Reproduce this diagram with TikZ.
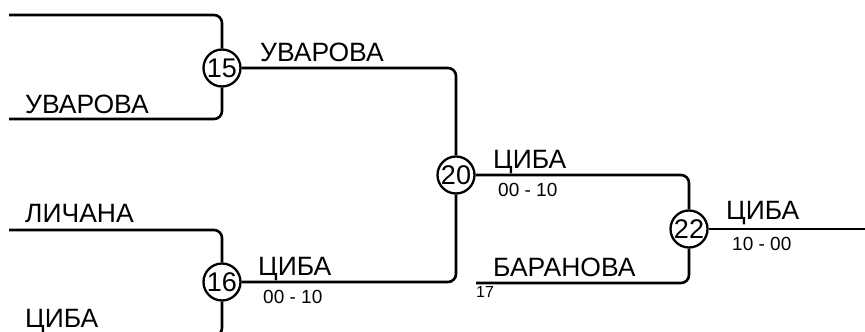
\documentclass[tikz,border=0pt]{standalone}
\usepackage{fontspec}
\setmainfont{Liberation Sans}
\begin{document}
\begin{tikzpicture}[x=1pt,y=-1pt,
  wire/.style={line width=2.6pt,rounded corners=8pt},
  match/.style={circle,draw,line width=2.3pt,minimum size=37pt,inner sep=0pt,font=\fontsize{27}{27}\selectfont},
  big/.style={anchor=base west,inner sep=0pt,font=\fontsize{26.5}{26.5}\selectfont},
  small/.style={anchor=base west,inner sep=0pt,font=\fontsize{19}{19}\selectfont},
  tiny/.style={anchor=base west,inner sep=0pt,font=\fontsize{16}{16}\selectfont}]
\useasboundingbox (0,0) rectangle (865,332);
\clip (0,0) rectangle (865,332);
% match nodes
\node[match] (m15) at (222,68) {15};
\node[match] (m16) at (222,282) {16};
\node[match] (m20) at (456,175) {20};
\node[match] (m22) at (689,229) {22};
% free ends
\coordinate (a15) at (9,15);
\coordinate (b15) at (9,119);
\coordinate (a16) at (9,230);
\coordinate (b16) at (9,336);
\coordinate (b22) at (476,283);
\coordinate (e22) at (870,229);
% connectors
\draw[wire] (a15) -| (m15);
\draw[wire] (b15) -| (m15);
\draw[wire] (a16) -| (m16);
\draw[wire] (b16) -| (m16);
\draw[wire] (m15) -| (m20);
\draw[wire] (m16) -| (m20);
\draw[wire] (m20) -| (m22);
\draw[wire] (b22) -| (m22);
\draw[wire] (m22) -- (e22);
% labels
\node[big] (t1) at (25,113) {УВАРОВА};
\node[big] (t2) at (260,61) {УВАРОВА};
\node[big] (t3) at (25,222) {ЛИЧАНА};
\node[big] (t4) at (25,327) {ЦИБА};
\node[big] (t5) at (258,275) {ЦИБА};
\node[small] (s5) at (263,303) {00 - 10};
\node[big] (t6) at (493,168) {ЦИБА};
\node[small] (s6) at (498,196) {00 - 10};
\node[big] (t7) at (493,276) {БАРАНОВА};
\node[tiny] (s7) at (476,297) {17};
\node[big] (t8) at (726,219) {ЦИБА};
\node[small] (s8) at (732,250) {10 - 00};
\end{tikzpicture}
\end{document}
